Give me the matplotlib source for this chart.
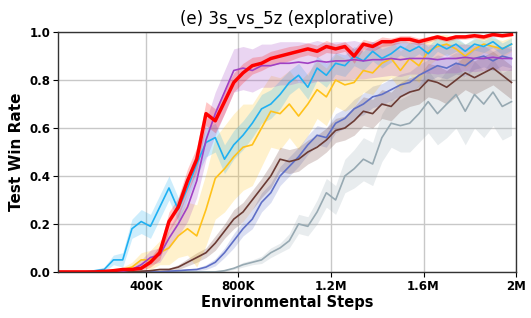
import numpy as np
import matplotlib
matplotlib.use("Agg")
import matplotlib.pyplot as plt

# environment steps (every 40K)
steps = np.arange(20000, 2000001, 40000)

gray_mean = [0, 0, 0, 0, 0, 0, 0, 0, 0, 0, 0, 0, 0, 0, 0, 0, 0, 0,
             0.005, 0.015, 0.03, 0.04, 0.05, 0.08, 0.1, 0.13, 0.2, 0.19, 0.25, 0.33,
             0.3, 0.4, 0.43, 0.47, 0.45, 0.56, 0.62, 0.61, 0.62, 0.66,
             0.71, 0.66, 0.7, 0.74, 0.67, 0.74, 0.7, 0.75, 0.69, 0.71]
gray_std = [0, 0, 0, 0, 0, 0, 0, 0, 0, 0, 0, 0, 0, 0, 0, 0, 0, 0,
            0.003, 0.005, 0.01, 0.01, 0.015, 0.02, 0.02, 0.03, 0.04, 0.04, 0.05, 0.06,
            0.06, 0.07, 0.08, 0.09, 0.09, 0.1, 0.1, 0.11, 0.12, 0.12,
            0.13, 0.13, 0.14, 0.14, 0.14, 0.14, 0.14, 0.14, 0.14, 0.14]

slate_mean = [0, 0, 0, 0, 0, 0, 0, 0, 0, 0, 0, 0, 0.003, 0.005, 0.008, 0.01, 0.02, 0.04,
              0.08, 0.13, 0.18, 0.22, 0.29, 0.33, 0.4, 0.44, 0.48, 0.53, 0.57, 0.56,
              0.62, 0.64, 0.68, 0.7, 0.73, 0.74, 0.76, 0.78, 0.79, 0.82,
              0.84, 0.86, 0.85, 0.87, 0.86, 0.89, 0.9, 0.88, 0.9, 0.89]
slate_std = [0, 0, 0, 0, 0, 0, 0, 0, 0, 0, 0, 0, 0.003, 0.004, 0.005, 0.006, 0.01, 0.015,
             0.02, 0.03, 0.03, 0.04, 0.04, 0.04, 0.04, 0.04, 0.04, 0.04, 0.04, 0.04,
             0.04, 0.04, 0.04, 0.045, 0.045, 0.045, 0.045, 0.045, 0.045, 0.045,
             0.045, 0.045, 0.045, 0.045, 0.045, 0.045, 0.045, 0.04, 0.04, 0.04]

brown_mean = [0, 0, 0, 0, 0, 0, 0, 0, 0, 0.003, 0.005, 0.01, 0.01, 0.02, 0.04, 0.06, 0.08, 0.12,
              0.17, 0.22, 0.25, 0.3, 0.35, 0.4, 0.47, 0.46, 0.47, 0.5, 0.52, 0.55,
              0.59, 0.6, 0.63, 0.67, 0.66, 0.7, 0.69, 0.73, 0.75, 0.76,
              0.8, 0.79, 0.77, 0.8, 0.83, 0.81, 0.83, 0.85, 0.82, 0.79]
brown_std = [0, 0, 0, 0, 0, 0, 0, 0, 0, 0.003, 0.004, 0.005, 0.006, 0.01, 0.015, 0.02, 0.02, 0.03,
             0.03, 0.04, 0.04, 0.04, 0.04, 0.05, 0.05, 0.05, 0.05, 0.05, 0.05, 0.05,
             0.05, 0.05, 0.06, 0.06, 0.06, 0.06, 0.06, 0.06, 0.06, 0.06,
             0.07, 0.07, 0.07, 0.07, 0.07, 0.07, 0.07, 0.07, 0.07, 0.07]

gold_mean = [0, 0, 0, 0, 0, 0, 0.003, 0.01, 0.02, 0.05, 0.05, 0.08, 0.1, 0.15, 0.18, 0.15, 0.26, 0.39,
             0.43, 0.48, 0.52, 0.53, 0.6, 0.67, 0.66, 0.7, 0.65, 0.7, 0.76, 0.73,
             0.8, 0.78, 0.79, 0.84, 0.83, 0.87, 0.89, 0.84, 0.89, 0.86,
             0.92, 0.94, 0.95, 0.93, 0.9, 0.93, 0.95, 0.94, 0.93, 0.95]
gold_std = [0, 0, 0, 0, 0, 0, 0.003, 0.01, 0.02, 0.03, 0.04, 0.05, 0.07, 0.09, 0.11, 0.13, 0.15, 0.17,
            0.18, 0.18, 0.18, 0.17, 0.16, 0.15, 0.15, 0.14, 0.14, 0.13, 0.12, 0.12,
            0.11, 0.11, 0.1, 0.09, 0.09, 0.08, 0.08, 0.08, 0.07, 0.07,
            0.06, 0.05, 0.04, 0.04, 0.05, 0.04, 0.035, 0.035, 0.035, 0.03]

blue_mean = [0, 0, 0, 0, 0.005, 0.01, 0.05, 0.05, 0.18, 0.21, 0.19, 0.27, 0.35, 0.26, 0.35, 0.45, 0.54, 0.56,
             0.47, 0.53, 0.57, 0.62, 0.68, 0.7, 0.74, 0.79, 0.82, 0.77, 0.85, 0.82,
             0.87, 0.86, 0.9, 0.88, 0.92, 0.89, 0.91, 0.94, 0.92, 0.94,
             0.91, 0.95, 0.93, 0.95, 0.92, 0.95, 0.94, 0.96, 0.93, 0.95]
blue_std = [0, 0, 0, 0.003, 0.005, 0.01, 0.02, 0.03, 0.04, 0.05, 0.05, 0.05, 0.05, 0.05, 0.05, 0.05, 0.06, 0.06,
            0.06, 0.06, 0.06, 0.06, 0.06, 0.06, 0.06, 0.05, 0.05, 0.05, 0.05, 0.05,
            0.045, 0.045, 0.04, 0.04, 0.04, 0.04, 0.035, 0.035, 0.035, 0.03,
            0.03, 0.03, 0.03, 0.03, 0.03, 0.025, 0.025, 0.025, 0.025, 0.025]

purple_mean = [0, 0, 0, 0, 0, 0, 0, 0.002, 0.01, 0.03, 0.06, 0.07, 0.14, 0.2, 0.27, 0.38, 0.55, 0.66,
               0.75, 0.84, 0.85, 0.84, 0.86, 0.86, 0.87, 0.87, 0.875, 0.87, 0.88, 0.875,
               0.88, 0.88, 0.885, 0.88, 0.885, 0.885, 0.89, 0.885, 0.89, 0.89,
               0.89, 0.885, 0.89, 0.89, 0.895, 0.89, 0.89, 0.895, 0.89, 0.89]
purple_std = [0, 0, 0, 0, 0, 0, 0, 0.002, 0.01, 0.02, 0.03, 0.03, 0.04, 0.05, 0.06, 0.07, 0.08, 0.09,
              0.09, 0.09, 0.09, 0.09, 0.09, 0.09, 0.09, 0.09, 0.085, 0.085, 0.085, 0.08,
              0.08, 0.08, 0.08, 0.075, 0.075, 0.07, 0.07, 0.07, 0.065, 0.065,
              0.06, 0.06, 0.06, 0.06, 0.055, 0.055, 0.05, 0.05, 0.05, 0.05]

red_mean = [0, 0, 0, 0, 0, 0.002, 0.005, 0.01, 0.01, 0.015, 0.04, 0.08, 0.21, 0.27, 0.38, 0.47, 0.66, 0.63,
            0.71, 0.79, 0.83, 0.86, 0.87, 0.89, 0.9, 0.91, 0.92, 0.93, 0.92, 0.94,
            0.93, 0.94, 0.9, 0.95, 0.94, 0.96, 0.96, 0.97, 0.97, 0.96,
            0.97, 0.98, 0.97, 0.98, 0.98, 0.985, 0.98, 0.99, 0.985, 0.99]
red_std = [0, 0, 0, 0, 0, 0.002, 0.004, 0.008, 0.008, 0.01, 0.02, 0.03, 0.04, 0.04, 0.05, 0.05, 0.05, 0.05,
           0.05, 0.04, 0.04, 0.035, 0.03, 0.03, 0.03, 0.03, 0.025, 0.025, 0.025, 0.025,
           0.02, 0.02, 0.03, 0.02, 0.02, 0.02, 0.015, 0.015, 0.015, 0.015,
           0.012, 0.01, 0.01, 0.01, 0.01, 0.01, 0.01, 0.008, 0.008, 0.008]

series = [
    (gray_mean, gray_std, '#97a9b2', 1.2),
    (slate_mean, slate_std, '#5f6fc6', 1.2),
    (brown_mean, brown_std, '#6b3b34', 1.2),
    (gold_mean, gold_std, '#ffc21a', 1.2),
    (blue_mean, blue_std, '#1fb0f2', 1.2),
    (purple_mean, purple_std, '#a040c4', 1.2),
    (red_mean, red_std, '#ff0000', 2.5),
]

fig = plt.figure(figsize=(5.31, 3.18), dpi=100)
ax = fig.add_axes([0.109, 0.145, 0.863, 0.754])

for mean, std, color, lw in series:
    mean = np.array(mean)
    std = np.array(std)
    ax.fill_between(steps, mean - std, mean + std, color=color, alpha=0.22, linewidth=0)
    ax.plot(steps, mean, color=color, linewidth=lw)

ax.set_xlim(20000, 2000000)
ax.set_ylim(0, 1.0)
ax.set_xticks([400000, 800000, 1200000, 1600000, 2000000])
ax.set_xticklabels(['400K', '800K', '1.2M', '1.6M', '2M'])
ax.set_yticks([0, 0.2, 0.4, 0.6, 0.8, 1.0])
ax.set_yticklabels(['0.0', '0.2', '0.4', '0.6', '0.8', '1.0'])
for lab in ax.get_xticklabels() + ax.get_yticklabels():
    lab.set_fontweight('bold')
    lab.set_fontsize(8.5)
ax.tick_params(length=3.5, width=0.8, pad=2)
ax.grid(True, color='#c8c8c8', linewidth=1.0)
ax.set_axisbelow(True)
for sp in ax.spines.values():
    sp.set_color('#333333')
    sp.set_linewidth(1.0)

ax.set_xlabel('Environmental Steps', fontsize=10.5, fontweight='bold', labelpad=2)
ax.set_ylabel('Test Win Rate', fontsize=11, fontweight='bold', labelpad=4)
ax.set_title('(e) 3s_vs_5z (explorative)', fontsize=12, pad=6)

fig.savefig('out.png', dpi=100)
